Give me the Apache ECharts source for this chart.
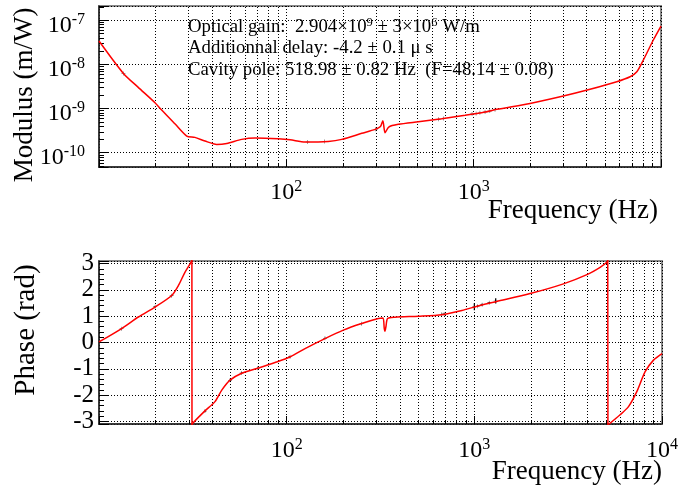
<!DOCTYPE html>
<html><head><meta charset="utf-8">
<script src="https://cdn.jsdelivr.net/npm/echarts@6/dist/echarts.min.js"></script>
<style>html,body{margin:0;padding:0;background:#fff}#c{width:683px;height:489px}</style>
</head><body><div id="c"></div>
<script>
// ---- data ----
const fitModFreq = [10.0, 13.5, 16.2, 19.9, 21.6, 25.5, 29.4, 32.5, 36.8, 42.5, 48.1, 57.8, 68.1, 90.6, 104.7, 126, 167.5, 197.6, 252.7, 297.8, 318, 327.5, 336.6, 352, 396, 506.5, 675.7, 900, 1151, 1328, 1999, 3012, 4181, 5805, 6838, 7430, 8050, 9100, 10000];
const fitModValue = [3.35e-8, 6.2e-9, 3.0e-9, 1.35e-9, 9.2e-10, 4.43e-10, 2.38e-10, 2.22e-10, 1.83e-10, 1.54e-10, 1.62e-10, 2.0e-10, 2.14e-10, 2.06e-10, 1.96e-10, 1.74e-10, 1.80e-10, 2.0e-10, 2.74e-10, 3.37e-10, 3.9e-10, 5.27e-10, 2.82e-10, 3.8e-10, 4.37e-10, 5.0e-10, 5.85e-10, 6.98e-10, 8.3e-10, 9.55e-10, 1.30e-9, 1.91e-9, 2.71e-9, 4.02e-9, 5.21e-9, 6.76e-9, 1.245e-8, 3.53e-8, 7.3e-8];

const fitPhaseFreq = [10.0, 13.2, 16.2, 19.9, 24.4, 26.5, 28.7, 30.9, 31.26, 31.3, 31.6, 36.7, 41.5, 45.1, 49.9, 57.6, 67.8, 86.7, 104.2, 125.3, 160, 200.4, 251, 308, 326, 331, 334, 338, 345, 378, 504, 671, 858, 1072, 1315, 1982, 2985, 3980, 4680, 5080, 5140, 5150, 5980, 6630, 7340, 8130, 9010, 10000];
const fitPhaseValue = [0.02, 0.53, 0.97, 1.35, 1.79, 2.17, 2.67, 3.05, 3.14, -3.14, -3.07, -2.60, -2.25, -1.81, -1.43, -1.17, -1.01, -0.76, -0.55, -0.23, 0.15, 0.47, 0.72, 0.91, 0.93, 0.55, 0.43, 0.6, 0.91, 0.96, 1.0, 1.06, 1.22, 1.41, 1.56, 1.86, 2.23, 2.58, 2.86, 3.05, 3.14, -3.14, -2.75, -2.44, -1.87, -1.11, -0.67, -0.42];

const measModFreq = [13.5, 130, 160, 300, 650, 690, 980, 1030, 1080, 1150, 1220, 1300];
const measModValue = [6.2e-9, 1.74e-10, 1.79e-10, 3.38e-10, 5.7e-10, 5.9e-10, 7.45e-10, 7.7e-10, 7.95e-10, 8.35e-10, 8.8e-10, 9.35e-10];

const measPhaseFreq = [13.2, 19.9, 24.4, 36.7, 49.9, 57.6, 70, 104.2, 160, 251, 671, 690, 1000, 1040, 1100, 1200, 1300];
const measPhaseValue = [0.52, 1.36, 1.78, -2.61, -1.44, -1.16, -0.98, -0.54, 0.16, 0.71, 1.07, 1.08, 1.36, 1.38, 1.44, 1.51, 1.58];
const measPhaseErr = [0.02, 0.02, 0.02, 0.02, 0.02, 0.02, 0.02, 0.02, 0.02, 0.02, 0.02, 0.02, 0.13, 0.03, 0.03, 0.03, 0.1];

const xMinorTicks = [20, 30, 40, 50, 60, 70, 80, 90, 200, 300, 400, 500, 600, 700, 800, 900, 2000, 3000, 4000, 5000, 6000, 7000, 8000, 9000];
const yModMinorTicks = [5e-11, 6e-11, 7e-11, 8e-11, 9e-11, 2e-10, 3e-10, 4e-10, 5e-10, 6e-10, 7e-10, 8e-10, 9e-10, 2e-9, 3e-9, 4e-9, 5e-9, 6e-9, 7e-9, 8e-9, 9e-9, 2e-8, 3e-8, 4e-8, 5e-8, 6e-8, 7e-8, 8e-8, 9e-8, 2e-7];

const fitLines = [
  '{t|Optical gain:  2.904×10}{u|9}{t| ± 3×10}{u|6}{t| W/m}',
  '{t|Additionnal delay: -4.2 ± 0.1 μ s}',
  '{t|Cavity pole: 518.98 ± 0.82 Hz  (F=48.14 ± 0.08)}'
];

// ---- axis ranges ----
const F_MIN = 10, F_MAX = 10000;
const MOD_MIN = 4.75e-11, MOD_MAX = 2.07e-7;
const PH_MIN = -3.1, PH_MAX = 3.1;

const FONT = '"Liberation Serif", "Times New Roman", serif';

const supRich = {
  b: {fontSize: 24, fontFamily: FONT, lineHeight: 28, color: '#000'},
  s: {fontSize: 16, fontFamily: FONT, lineHeight: 14, verticalAlign: 'top', color: '#000'}
};
function powLabel(hide) {
  return function (v) {
    const l = Math.log10(v);
    const e = Math.round(l);
    if (Math.abs(l - e) > 1e-6) return '';
    if (hide.indexOf(e) >= 0) return '';
    return '{b|10}{s|' + e + '}';
  };
}

const dotted = {type: [1, 2], color: '#000', width: 1};

function vGrid(yLo, yHi, tickLen) {
  return function (params, api) {
    const v = api.value(0);
    const a = api.coord([v, yLo]);
    const b = api.coord([v, yHi]);
    const x = Math.round(a[0]) + 0.5;
    return {type: 'group', children: [
      {type: 'line', shape: {x1: x, y1: a[1], x2: x, y2: b[1]}, style: {stroke: '#000', lineWidth: 1, lineDash: [1, 2]}},
      {type: 'line', shape: {x1: x, y1: a[1], x2: x, y2: a[1] - tickLen}, style: {stroke: '#000', lineWidth: 1}}
    ]};
  };
}

// phase curve: smooth branches broken at the ±pi wraps, wraps drawn as straight jumps
const phaseBranches = [];
const phaseWraps = [];
fitPhaseFreq.forEach(function (f, i) {
  if (i > 0 && Math.abs(fitPhaseValue[i] - fitPhaseValue[i - 1]) > 3) {
    phaseBranches.push(null);
    if (phaseWraps.length) phaseWraps.push(null);
    phaseWraps.push([fitPhaseFreq[i - 1], fitPhaseValue[i - 1]], [f, fitPhaseValue[i]]);
  }
  phaseBranches.push([f, fitPhaseValue[i]]);
});

const cross = 'path://M0,4.4h10v1.2h-10z M4.4,0h1.2v10h-1.2z';
const redLine = {color: '#ff0000', width: 1.5};

const option = {
  animation: false,
  backgroundColor: '#fff',
  grid: [
    {left: 99, top: 6, width: 562, height: 161, show: true, borderColor: '#888', borderWidth: 2, outerBoundsMode: 'none'},
    {left: 99, top: 261, width: 563, height: 163, show: true, borderColor: '#888', borderWidth: 2, outerBoundsMode: 'none'}
  ],
  xAxis: [
    {type: 'log', gridIndex: 0, min: F_MIN, max: F_MAX,
     axisLine: {show: true, onZero: false, lineStyle: {color: '#222', width: 1.5}},
     axisTick: {show: true, inside: true, length: 8, lineStyle: {color: '#000'}},
     axisLabel: {formatter: powLabel([1, 4]), margin: 12, rich: supRich, showMinLabel: true, showMaxLabel: true},
     splitLine: {show: true, lineStyle: dotted}},
    {type: 'log', gridIndex: 1, min: F_MIN, max: F_MAX,
     axisLine: {show: true, onZero: false, lineStyle: {color: '#222', width: 1.5}},
     axisTick: {show: true, inside: true, length: 8, lineStyle: {color: '#000'}},
     axisLabel: {formatter: powLabel([1]), margin: 13, rich: supRich, showMinLabel: true, showMaxLabel: true},
     splitLine: {show: true, lineStyle: dotted}}
  ],
  yAxis: [
    {type: 'log', gridIndex: 0, min: MOD_MIN, max: MOD_MAX,
     axisLine: {show: true, onZero: false, lineStyle: {color: '#222', width: 1.5}},
     axisTick: {show: true, inside: true, length: 9, lineStyle: {color: '#000'}},
     axisLabel: {formatter: powLabel([]), margin: 14, rich: supRich, padding: [11, 0, 0, 0], showMinLabel: true, showMaxLabel: true},
     splitLine: {show: true, lineStyle: dotted}},
    {type: 'value', gridIndex: 1, min: PH_MIN, max: PH_MAX,
     axisLine: {show: true, onZero: false, lineStyle: {color: '#222', width: 1.5}},
     axisTick: {show: true, inside: true, length: 10, lineStyle: {color: '#000'}},
     minorTick: {show: true, splitNumber: 5, length: 5, lineStyle: {color: '#000'}},
     axisLabel: {
       formatter: function (v) { const r = Math.round(v); return Math.abs(v - r) < 1e-6 ? String(r) : ''; },
       margin: 5, fontSize: 25, fontFamily: FONT, color: '#000', padding: [4, 0, 0, 0]},
     splitLine: {show: true, lineStyle: dotted}}
  ],
  graphic: [
    {type: 'text', x: 25, y: 95, rotation: Math.PI / 2,
     style: {text: 'Modulus (m/W)', font: '27px ' + FONT, fill: '#000', align: 'center', verticalAlign: 'middle', textAlign: 'center', textVerticalAlign: 'middle'}},
    {type: 'text', x: 26, y: 330, rotation: Math.PI / 2,
     style: {text: 'Phase (rad)', font: '29px ' + FONT, fill: '#000', align: 'center', verticalAlign: 'middle', textAlign: 'center', textVerticalAlign: 'middle'}},
    {type: 'text', x: 658, y: 211,
     style: {text: 'Frequency (Hz)', font: '27px ' + FONT, fill: '#000', align: 'right', verticalAlign: 'middle', textAlign: 'right', textVerticalAlign: 'middle'}},
    {type: 'text', x: 662, y: 472,
     style: {text: 'Frequency (Hz)', font: '27px ' + FONT, fill: '#000', align: 'right', verticalAlign: 'middle', textAlign: 'right', textVerticalAlign: 'middle'}}
  ].concat(fitLines.map(function (txt, i) {
    return {type: 'text', x: 188, y: 27 + i * 21.5, z: 10,
      style: {text: txt, fill: '#000', align: 'left', verticalAlign: 'middle', textAlign: 'left', textVerticalAlign: 'middle',
        rich: {t: {fontSize: 18.8, fontFamily: FONT, lineHeight: 22, color: '#111'},
               u: {fontSize: 12.5, fontFamily: FONT, lineHeight: 12, verticalAlign: 'top', color: '#111'}}}};
  })),
  series: [
    {type: 'custom', name: 'gridTop', xAxisIndex: 0, yAxisIndex: 0, z: 1, silent: true, clip: true,
     renderItem: vGrid(MOD_MIN, MOD_MAX, 4),
     data: xMinorTicks.map(function (v) { return [v, MOD_MIN]; })},
    {type: 'custom', name: 'gridBottom', xAxisIndex: 1, yAxisIndex: 1, z: 1, silent: true, clip: true,
     renderItem: vGrid(PH_MIN, PH_MAX, 4),
     data: xMinorTicks.map(function (v) { return [v, 0]; })},
    {type: 'custom', name: 'yTicksTop', xAxisIndex: 0, yAxisIndex: 0, z: 2, silent: true,
     renderItem: function (params, api) {
       const p = api.coord([F_MIN, api.value(1)]);
       const y = Math.round(p[1]) + 0.5;
       return {type: 'line', shape: {x1: p[0], y1: y, x2: p[0] + 5, y2: y}, style: {stroke: '#000', lineWidth: 1}};
     },
     data: yModMinorTicks.map(function (v) { return [F_MIN, v]; })},
    {type: 'scatter', name: 'measMod', xAxisIndex: 0, yAxisIndex: 0, z: 3, symbol: cross, symbolSize: 4,
     itemStyle: {color: '#000'},
     data: measModFreq.map(function (f, i) { return [f, measModValue[i]]; })},
    {type: 'line', name: 'fitMod', xAxisIndex: 0, yAxisIndex: 0, z: 4, showSymbol: false, symbol: 'none',
     smooth: 0.25, lineStyle: redLine, clip: true,
     data: fitModFreq.map(function (f, i) { return [f, fitModValue[i]]; })},
    {type: 'custom', name: 'errPhase', xAxisIndex: 1, yAxisIndex: 1, z: 3, silent: true,
     renderItem: function (params, api) {
       const a = api.coord([api.value(0), api.value(1) - api.value(2)]);
       const b = api.coord([api.value(0), api.value(1) + api.value(2)]);
       return {type: 'line', shape: {x1: a[0], y1: a[1], x2: b[0], y2: b[1]}, style: {stroke: '#000', lineWidth: 1.2}};
     },
     data: measPhaseFreq.map(function (f, i) { return [f, measPhaseValue[i], measPhaseErr[i]]; })},
    {type: 'scatter', name: 'measPhase', xAxisIndex: 1, yAxisIndex: 1, z: 3, symbol: cross, symbolSize: 4,
     itemStyle: {color: '#000'},
     data: measPhaseFreq.map(function (f, i) { return [f, measPhaseValue[i]]; })},
    {type: 'line', name: 'fitPhase', xAxisIndex: 1, yAxisIndex: 1, z: 4, showSymbol: false, symbol: 'none',
     smooth: 0.25, connectNulls: false, lineStyle: redLine, clip: true,
     data: phaseBranches},
    {type: 'line', name: 'fitPhaseWrap', xAxisIndex: 1, yAxisIndex: 1, z: 4, showSymbol: false, symbol: 'none',
     smooth: false, connectNulls: false, lineStyle: redLine, clip: true,
     data: phaseWraps}
  ]
};

const chart = echarts.init(document.getElementById('c'), null, {renderer: 'canvas'});
chart.setOption(option);
</script>
</body></html>
